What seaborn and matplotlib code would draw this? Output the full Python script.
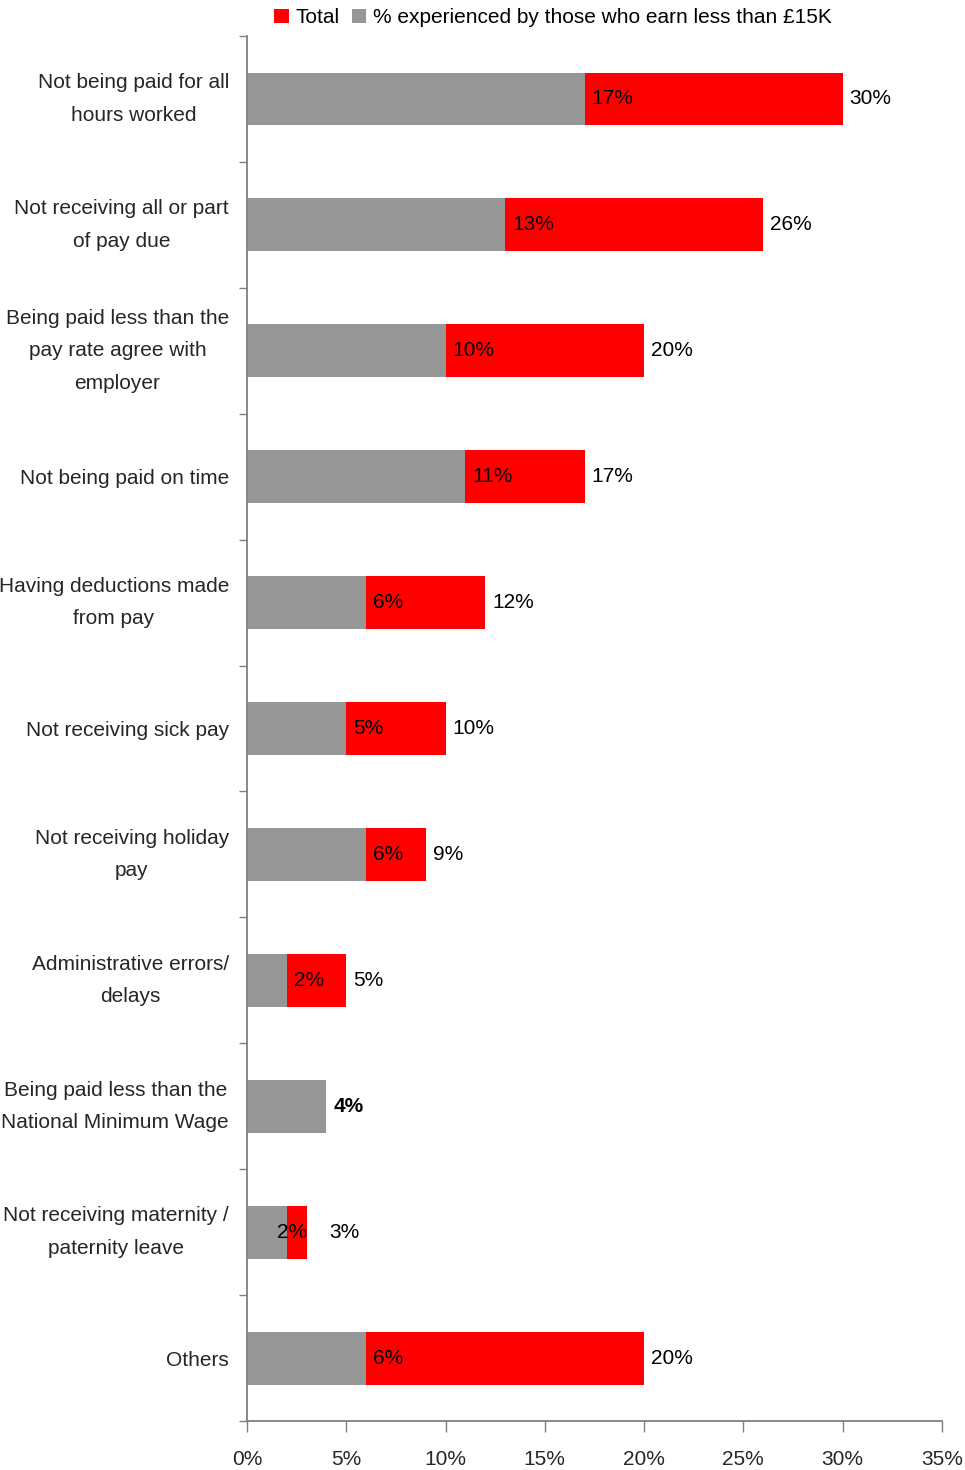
import matplotlib
matplotlib.use("Agg")
import matplotlib.pyplot as plt
import seaborn as sns
import pandas as pd
from matplotlib.patches import Patch
from matplotlib.ticker import FixedLocator, FuncFormatter

# Pay problems experienced, share of respondents (%)
categories = [
    "Not being paid for all\nhours worked",
    "Not receiving all or part\nof pay due",
    "Being paid less than the\npay rate agree with\nemployer",
    "Not being paid on time",
    "Having deductions made\nfrom pay",
    "Not receiving sick pay",
    "Not receiving holiday\npay",
    "Administrative errors/\ndelays",
    "Being paid less than the\nNational Minimum Wage",
    "Not receiving maternity /\npaternity leave",
    "Others",
]
low_earner_pct = [17, 13, 10, 11, 6, 5, 6, 2, 4, 2, 6]
total_pct = [30, 26, 20, 17, 12, 10, 9, 5, 4, 3, 20]
x_ticks = [0, 5, 10, 15, 20, 25, 30, 35]
legend_labels = ["Total", "% experienced by those who earn less than £15K"]

RED = "#FF0000"
GREY = "#969696"
AXIS = "#808080"
FS = 15

sns.set_theme(style="white")
plt.rcParams["font.family"] = ["Liberation Sans", "DejaVu Sans"]
plt.rcParams["font.size"] = FS
plt.rcParams["text.color"] = "black"

df = pd.DataFrame({"category": categories, "low": low_earner_pct, "total": total_pct})

fig = plt.figure(figsize=(9.65, 14.7), dpi=100)
ax = fig.add_axes([0.256, 0.0333, 0.72, 0.9422])

sns.barplot(data=df, y="category", x="total", color=RED, width=0.42,
            saturation=1, errorbar=None, orient="h", ax=ax, linewidth=0)
sns.barplot(data=df, y="category", x="low", color=GREY, width=0.42,
            saturation=1, errorbar=None, orient="h", ax=ax, linewidth=0)

n = len(categories)
ax.set_ylim(n - 0.5, -0.5)
ax.set_xlim(0, 35)
ax.set_xlabel("")
ax.set_ylabel("")

# y axis: labels at bar centres, tick marks at category boundaries
ax.set_yticks(range(n))
ax.set_yticklabels(categories, fontsize=FS, linespacing=1.9)
for lab in ax.get_yticklabels():
    lab.set_multialignment("center")
    if "\n" in lab.get_text():
        lab.set_verticalalignment("center")
ax.yaxis.set_minor_locator(FixedLocator([i - 0.5 for i in range(n + 1)]))
ax.tick_params(axis="y", which="major", length=0, pad=13)
ax.tick_params(axis="y", which="minor", length=6, width=1, color=AXIS, direction="out", left=True)

# x axis
ax.set_xticks(x_ticks)
ax.xaxis.set_major_formatter(FuncFormatter(lambda v, p: f"{int(v)}%"))
ax.tick_params(axis="x", which="major", length=8, width=1, color=AXIS, direction="out",
               bottom=True, labelsize=FS, pad=13)

for side in ["top", "right"]:
    ax.spines[side].set_visible(False)
for side in ["left", "bottom"]:
    ax.spines[side].set_color(AXIS)
    ax.spines[side].set_linewidth(1.3)

# value labels
for i, (lo, tot) in enumerate(zip(low_earner_pct, total_pct)):
    narrow = (tot - lo) < 2
    if lo == tot:
        ax.annotate(f"{tot}%", xy=(tot, i), xytext=(5, 0), textcoords="offset points",
                    ha="left", va="center", fontsize=FS, fontweight="bold")
        continue
    if narrow:
        ax.annotate(f"{lo}%", xy=((lo + tot) / 2, i), xytext=(-3, 0), textcoords="offset points",
                    ha="center", va="center", fontsize=FS)
    else:
        ax.annotate(f"{lo}%", xy=(lo, i), xytext=(5, 0), textcoords="offset points",
                    ha="left", va="center", fontsize=FS)
    ax.annotate(f"{tot}%", xy=(tot, i), xytext=(16 if narrow else 5, 0), textcoords="offset points",
                ha="left", va="center", fontsize=FS)

handles = [Patch(facecolor=RED, edgecolor="none"), Patch(facecolor=GREY, edgecolor="none")]
fig.legend(handles, legend_labels, loc="upper center", bbox_to_anchor=(0.573, 1.003), ncol=2,
           frameon=False, fontsize=FS, handlelength=0.7, handleheight=0.7,
           handletextpad=0.3, columnspacing=0.6, borderaxespad=0.2)

fig.savefig("out.png", dpi=100)
